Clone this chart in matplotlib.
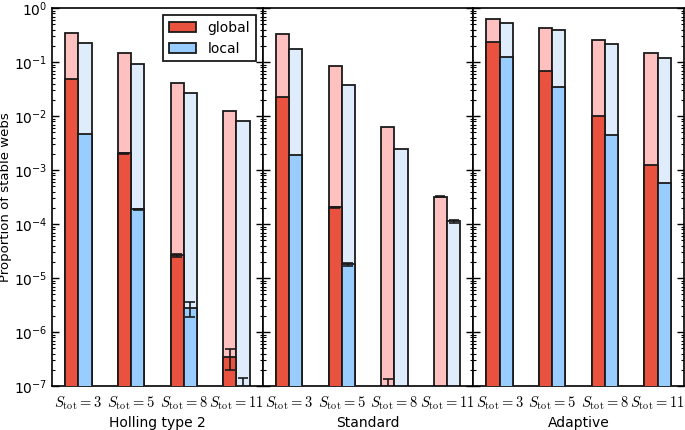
import numpy as np
import matplotlib
matplotlib.use('Agg')
import matplotlib.pyplot as plt
from matplotlib.patches import Patch

models = ['Holling type 2', 'Standard', 'Adaptive']
sizes = [3, 5, 8, 11]
tick_labels = [r'$S_{\rm tot}=%d$' % s for s in sizes]

# Holling type 2
holling_glob_light = [0.344, 0.145, 0.041, 0.0124]
holling_glob_dark = [0.048, 0.00206, 2.67e-5, 3.4e-7]
holling_glob_err = [0.0, 3e-5, 1.8e-6, 1.45e-7]
holling_loc_light = [0.228, 0.094, 0.0267, 0.0081]
holling_loc_dark = [0.00464, 1.9e-4, 2.75e-6, 9e-8]
holling_loc_err = [0.0, 4e-6, 8.7e-7, 4.9e-8]

# Standard
standard_glob_light = [0.335, 0.0843, 0.00634, 3.2e-4]
standard_glob_light_err = [0.0, 0.0, 0.0, 8e-6]
standard_glob_dark = [0.0228, 2.04e-4, 7e-8, 0.0]
standard_glob_err = [0.0, 3e-6, 6.5e-8, 0.0]
standard_loc_light = [0.172, 0.038, 0.00248, 1.12e-4]
standard_loc_light_err = [0.0, 0.0, 0.0, 5e-6]
standard_loc_dark = [0.00187, 1.79e-5, 0.0, 0.0]
standard_loc_err = [0.0, 1.2e-6, 0.0, 0.0]

# Adaptive
adaptive_glob_light = [0.617, 0.438, 0.259, 0.145]
adaptive_glob_dark = [0.238, 0.070, 0.0100, 0.00127]
adaptive_loc_light = [0.542, 0.386, 0.219, 0.117]
adaptive_loc_dark = [0.126, 0.0344, 0.00457, 5.8e-4]

zeros = [0.0, 0.0, 0.0, 0.0]
panels = [
    (holling_glob_light, zeros, holling_glob_dark, holling_glob_err,
     holling_loc_light, zeros, holling_loc_dark, holling_loc_err),
    (standard_glob_light, standard_glob_light_err, standard_glob_dark, standard_glob_err,
     standard_loc_light, standard_loc_light_err, standard_loc_dark, standard_loc_err),
    (adaptive_glob_light, zeros, adaptive_glob_dark, zeros,
     adaptive_loc_light, zeros, adaptive_loc_dark, zeros),
]

RED = '#e8523f'
PINK = '#ffc0c0'
BLUE = '#99ccff'
LBLUE = '#deecfc'

fig, axes = plt.subplots(1, 3, figsize=(6.85, 4.3), dpi=100, sharey=True)
fig.subplots_adjust(left=0.076, right=0.9985, top=0.981, bottom=0.102, wspace=0)

w = 0.25
x = np.arange(len(sizes))
bottom = 1e-12
for ax, name, data in zip(axes, models, panels):
    gl, gle, gd, gde, ll, lle, ld, lde = data
    for xs, light, le, dark, de, cl, cd in [
        (x - w / 2, gl, gle, gd, gde, PINK, RED),
        (x + w / 2, ll, lle, ld, lde, LBLUE, BLUE),
    ]:
        light = np.array(light); dark = np.array(dark)
        ax.bar(xs, light - bottom, width=w, bottom=bottom, color=cl,
               edgecolor='#1a1a1a', linewidth=1.3, zorder=2)
        m = dark > 0
        ax.bar(xs[m], dark[m] - bottom, width=w, bottom=bottom, color=cd,
               edgecolor='#1a1a1a', linewidth=1.3, zorder=3)
        le = np.array(le); de = np.array(de)
        ml = le > 0
        if ml.any():
            ax.errorbar(xs[ml], light[ml], yerr=le[ml], fmt='none', ecolor='#1a1a1a',
                        elinewidth=1.2, capsize=3.5, capthick=1.2, zorder=4)
        md = de > 0
        if md.any():
            ax.errorbar(xs[md], dark[md], yerr=de[md], fmt='none', ecolor='#1a1a1a',
                        elinewidth=1.2, capsize=3.5, capthick=1.2, zorder=4)
    ax.set_yscale('log')
    ax.set_ylim(1e-7, 1e0)
    ax.set_xlim(-0.5, 3.5)
    ax.set_xticks(x)
    ax.set_xticklabels(tick_labels)
    for lab in ax.get_xticklabels():
        lab.set_fontsize(10.5)
        lab.set_math_fontfamily('cm')
    ax.tick_params(axis='x', length=0, pad=6)
    ax.tick_params(axis='y', which='both', direction='in', left=True, right=True,
                   labelsize=10)
    ax.tick_params(axis='y', which='major', length=5, width=1)
    ax.tick_params(axis='y', which='minor', length=2.5, width=0.8)
    ax.set_xlabel(name, fontsize=10, labelpad=3)
    for s in ax.spines.values():
        s.set_linewidth(1.2)

axes[0].set_ylabel('Proportion of stable webs', fontsize=9.5, labelpad=1)
handles = [Patch(facecolor=RED, edgecolor='#1a1a1a', linewidth=1.3, label='global'),
           Patch(facecolor=BLUE, edgecolor='#1a1a1a', linewidth=1.3, label='local')]
leg = axes[0].legend(handles=handles, loc='upper right', fontsize=10, fancybox=False,
                     framealpha=1, edgecolor='#1a1a1a', handlelength=2.0, borderaxespad=0.5)
leg.get_frame().set_linewidth(1.3)

fig.savefig('out.png', dpi=100)
